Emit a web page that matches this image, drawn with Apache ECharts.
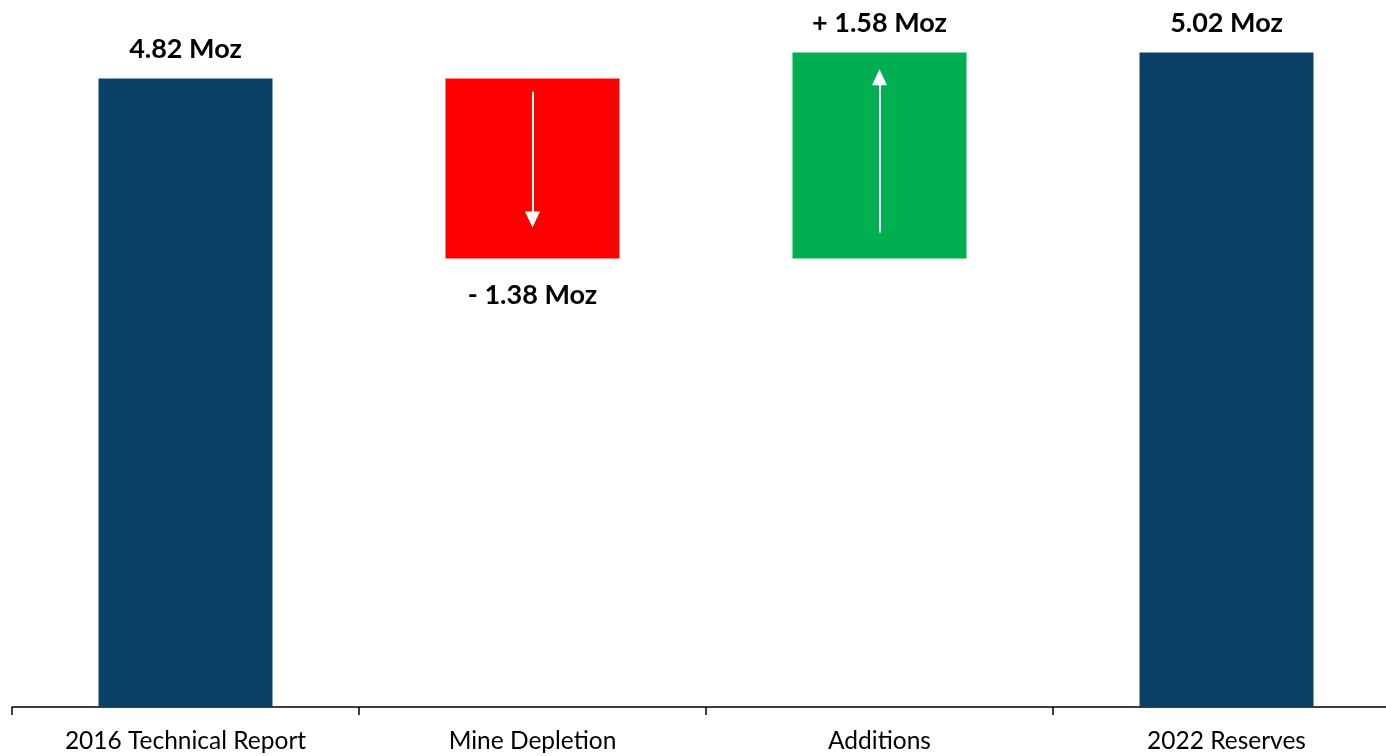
<!DOCTYPE html>
<html>
<head>
<meta charset="utf-8">
<script src="https://cdn.jsdelivr.net/npm/echarts@6/dist/echarts.min.js"></script>
<style>
html, body { margin: 0; padding: 0; background: #fff; }
#chart { width: 1386px; height: 756px; }
</style>
</head>
<body>
<div id="chart"></div>
<script>
//类目
var categories = ['2016 Technical Report', 'Mine Depletion', 'Additions', '2022 Reserves'];
//透明底座
var baseValues = [0, 3.44, 3.44, 0];
//柱高
var barValues = [4.82, 1.38, 1.58, 5.02];
//标签文字
var barLabels = ['4.82 Moz', '- 1.38 Moz', '+ 1.58 Moz', '5.02 Moz'];
var barColors = ['#0C4167', '#FF0000', '#00B050', '#0C4167'];
//箭头 [类目, 起点, 终点(三角中心)]
var arrows = [
    ['Mine Depletion', 4.72, 3.74],
    ['Additions', 3.64, 4.83]
];

var chart = echarts.init(document.getElementById('chart'));
var font = 'Lato, "Open Sans", sans-serif';

var option = {
    animation: false,
    grid: { left: 12, top: 3, width: 1388, bottom: 49, containLabel: false, outerBoundsMode: 'none' },
    xAxis: {
        type: 'category',
        data: categories,
        axisLine: { lineStyle: { color: '#000', width: 1.5 } },
        axisTick: { show: true, alignWithLabel: false, length: 8, lineStyle: { color: '#000', width: 1.5 } },
        axisLabel: { color: '#000', fontSize: 24.5, fontFamily: font, margin: 22, interval: 0 }
    },
    yAxis: {
        type: 'value',
        min: 0,
        max: 5.4,
        show: false,
        splitLine: { show: false }
    },
    series: [{
            type: 'bar',
            stack: 'w',
            barWidth: 174,
            itemStyle: { color: 'transparent' },
            silent: true,
            data: baseValues
        }, {
            type: 'bar',
            stack: 'w',
            barWidth: 174,
            data: barValues.map(function (v, i) {
                return {
                    value: v,
                    itemStyle: { color: barColors[i] },
                    label: {
                        show: true,
                        position: i === 1 ? 'bottom' : 'top',
                        distance: i === 1 ? 23 : 16,
                        formatter: barLabels[i],
                        color: '#000',
                        fontSize: 27,
                        fontWeight: 'bold',
                        fontFamily: font
                    }
                };
            }),
            markLine: {
                silent: true,
                symbol: ['none', 'triangle'],
                symbolSize: [15, 16],
                label: { show: false },
                lineStyle: { color: '#fff', width: 2, type: 'solid' },
                data: arrows.map(function (a) {
                    return [{ coord: [a[0], a[1]] }, { coord: [a[0], a[2]] }];
                })
            }
        }]
};
chart.setOption(option);
</script>
</body>
</html>
